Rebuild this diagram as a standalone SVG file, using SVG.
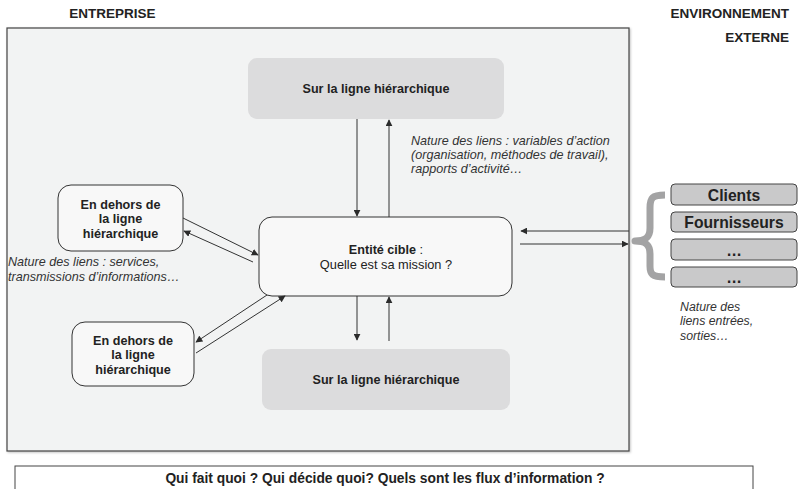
<svg xmlns="http://www.w3.org/2000/svg" width="802" height="489" viewBox="0 0 802 489">
  <defs>
    <marker id="arrow" viewBox="0 0 10 10" refX="9" refY="5" markerWidth="7" markerHeight="7" orient="auto-start-reverse" markerUnits="userSpaceOnUse">
      <path d="M0,0 L10,5 L0,10 z" fill="#2b2b2b"/>
    </marker>
    <filter id="shadow" x="-5%" y="-5%" width="110%" height="110%">
      <feDropShadow dx="1" dy="1" stdDeviation="1" flood-color="#000" flood-opacity="0.25"/>
    </filter>
  </defs>
  <style>
    text { font-family: "Liberation Sans", Arial, sans-serif; fill: #222; }
    .head { font-size: 13.5px; font-weight: bold; }
    .b { font-size: 12.6px; font-weight: bold; }
    .n { font-size: 12.8px; }
    .note { font-size: 12.6px; font-style: italic; fill: #333; }
    .note-r { font-size: 12.3px; font-style: italic; fill: #333; }
    .ext { font-size: 15.7px; font-weight: bold; }
    .q { font-size: 13.8px; font-weight: bold; }
    .grey { fill: #dcdcdd; }
    .white { fill: #f8f8f8; stroke: #333; stroke-width: 1; }
    .extbox { fill: #c9c9ca; stroke: #444; stroke-width: 1; }
    .conn line { stroke: #333; stroke-width: 1; marker-end: url(#arrow); }
  </style>

  <rect width="802" height="489" fill="#ffffff"/>

  <!-- headings -->
  <text class="head" x="112.5" y="18" text-anchor="middle">ENTREPRISE</text>
  <text class="head" x="789" y="18" text-anchor="end">ENVIRONNEMENT</text>
  <text class="head" x="789" y="42" text-anchor="end">EXTERNE</text>

  <!-- enterprise area -->
  <g id="entreprise">
    <rect x="7" y="28" width="622" height="423" fill="#f2f3f3" stroke="#444" stroke-width="1.2" filter="url(#shadow)"/>
  </g>

  <!-- hierarchy above -->
  <g id="hierarchie-haut">
    <rect class="grey" x="248" y="58" width="256" height="61" rx="9"/>
    <text class="b" x="376" y="93" text-anchor="middle">Sur la ligne hiérarchique</text>
  </g>

  <!-- hierarchy below -->
  <g id="hierarchie-bas">
    <rect class="grey" x="262" y="349" width="248" height="61" rx="9"/>
    <text class="b" x="386" y="384" text-anchor="middle">Sur la ligne hiérarchique</text>
  </g>

  <!-- target entity -->
  <g id="entite-cible">
    <rect class="white" x="259" y="217" width="253" height="79" rx="13"/>
    <text x="386" y="254" text-anchor="middle"><tspan class="b">Entité cible</tspan><tspan class="n"> :</tspan></text>
    <text class="n" x="386" y="269" text-anchor="middle">Quelle est sa mission ?</text>
  </g>

  <!-- outside hierarchy, upper -->
  <g id="hors-ligne-haut">
    <rect class="white" x="58" y="185" width="125" height="66" rx="13"/>
    <text class="b" x="120.5" y="208.5" text-anchor="middle">En dehors de</text>
    <text class="b" x="120.5" y="222.5" text-anchor="middle">la ligne</text>
    <text class="b" x="120.5" y="237.5" text-anchor="middle">hiérarchique</text>
  </g>

  <!-- outside hierarchy, lower -->
  <g id="hors-ligne-bas">
    <rect class="white" x="72" y="322" width="122" height="64" rx="13"/>
    <text class="b" x="133" y="344.5" text-anchor="middle">En dehors de</text>
    <text class="b" x="133" y="358.5" text-anchor="middle">la ligne</text>
    <text class="b" x="133" y="373.5" text-anchor="middle">hiérarchique</text>
  </g>

  <!-- external partners -->
  <g id="clients">
    <rect class="extbox" x="671" y="184" width="126" height="21" rx="4"/>
    <text class="ext" x="734" y="200.5" text-anchor="middle">Clients</text>
  </g>
  <g id="fournisseurs">
    <rect class="extbox" x="671" y="212" width="126" height="20" rx="4"/>
    <text class="ext" x="734" y="228" text-anchor="middle">Fournisseurs</text>
  </g>
  <g id="autre-1">
    <rect class="extbox" x="671" y="239" width="126" height="21" rx="4"/>
    <text class="ext" x="734" y="255.5" text-anchor="middle">…</text>
  </g>
  <g id="autre-2">
    <rect class="extbox" x="671" y="267" width="126" height="20" rx="4"/>
    <text class="ext" x="734" y="283" text-anchor="middle">…</text>
  </g>

  <!-- brace grouping the partners -->
  <path d="M665,195 C652,195 650,198 650,208 L650,228 C650,238 645,241 635,241 C645,241 650,244 650,254 L650,266 C650,274 652,277 665,277" fill="none" stroke="#a3a3a4" stroke-width="7" stroke-linejoin="round"/>

  <!-- link notes -->
  <text class="note" x="411" y="145">Nature des liens : variables d’action</text>
  <text class="note" x="411" y="159">(organisation, méthodes de travail),</text>
  <text class="note" x="411" y="173">rapports d’activité…</text>

  <text class="note" x="8" y="266">Nature des liens : services,</text>
  <text class="note" x="8" y="281">transmissions d’informations…</text>

  <text class="note-r" x="680" y="311">Nature des</text>
  <text class="note-r" x="680" y="325">liens entrées,</text>
  <text class="note-r" x="680" y="340">sorties…</text>

  <!-- connectors -->
  <g class="conn" id="connecteurs">
    <line x1="357" y1="119" x2="357" y2="216"/>
    <line x1="389" y1="217" x2="389" y2="120"/>
    <line x1="357" y1="296" x2="357" y2="340"/>
    <line x1="389" y1="341" x2="389" y2="297"/>
    <line x1="183" y1="218" x2="258" y2="255"/>
    <line x1="253" y1="262" x2="184" y2="231"/>
    <line x1="267" y1="295" x2="196" y2="342"/>
    <line x1="196" y1="353" x2="285" y2="296"/>
    <line x1="629" y1="231" x2="521" y2="231"/>
    <line x1="520" y1="244" x2="628" y2="244"/>
  </g>

  <!-- question bar -->
  <g id="questions">
    <rect x="15" y="466" width="738" height="30" fill="#ffffff" stroke="#444" stroke-width="1"/>
    <text class="q" x="385" y="483" text-anchor="middle">Qui fait quoi ? Qui décide quoi? Quels sont les flux d’information ?</text>
  </g>
</svg>
